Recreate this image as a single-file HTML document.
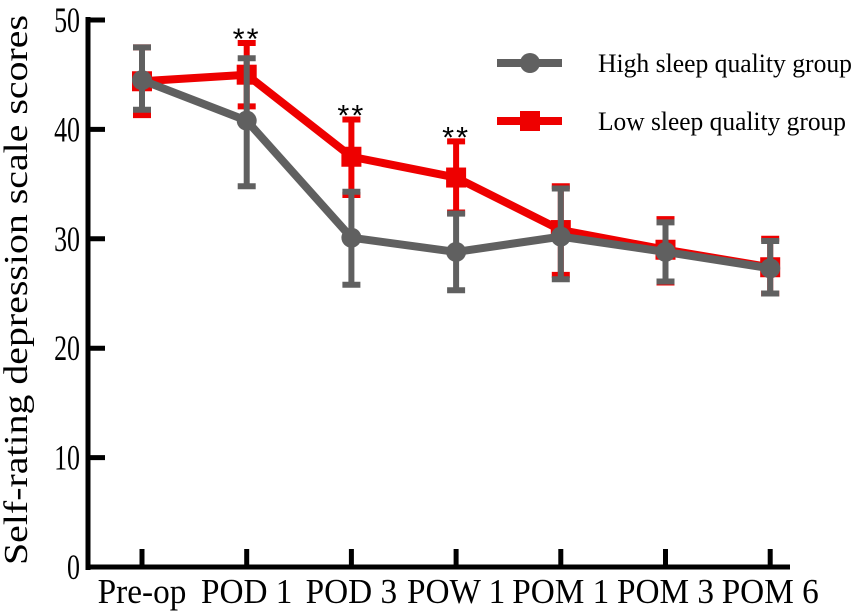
<!DOCTYPE html>
<html><head><meta charset="utf-8"><style>
html,body{margin:0;padding:0;background:#fff;}
svg{display:block;font-family:"Liberation Serif",serif;}
</style></head><body>
<svg id="chart" width="854" height="612" xmlns="http://www.w3.org/2000/svg"></svg>
<script>
const categories = ["Pre-op","POD 1","POD 3","POW 1","POM 1","POM 3","POM 6"];
const highMean = [44.5,40.8,30.1,28.8,30.2,28.8,27.3];
const highLow  = [41.8,34.8,25.8,25.3,26.3,26.1,25.0];
const highHigh = [47.5,46.5,34.3,32.3,34.6,31.5,29.8];
const lowMean  = [44.4,45.0,37.5,35.6,30.8,29.0,27.4];
const lowLow   = [41.3,42.1,34.0,32.4,26.7,26.0,25.0];
const lowHigh  = [47.5,47.9,40.9,38.9,34.8,31.8,30.0];
const sigFlags = [0,1,1,1,0,0,0];
const yTicks = [0,10,20,30,40,50];

const NS="http://www.w3.org/2000/svg";
const svg=document.getElementById('chart');
function y(v){return 567 - v*10.94;}
function x(i){return 142 + i*104.7;}
function mk(tag,attrs,parent){const e=document.createElementNS(NS,tag);for(const k in attrs)e.setAttribute(k,attrs[k]);(parent||svg).appendChild(e);return e;}
function squeeze(t,f){const L=t.getComputedTextLength();t.setAttribute('textLength',L*f);t.setAttribute('lengthAdjust','spacingAndGlyphs');}

const axes=mk('g',{});


mk('line',{x1:88,y1:17,x2:88,y2:570,stroke:'#000','stroke-width':5},axes);
mk('line',{x1:86,y1:567,x2:790,y2:567,stroke:'#000','stroke-width':5},axes);
yTicks.forEach(t=>{
  mk('line',{x1:88,y1:y(t),x2:105,y2:y(t),stroke:'#000','stroke-width':5},axes);
  const tx=mk('text',{x:80,y:y(t)+12,'text-anchor':'end','font-size':36},axes);
  tx.textContent=t;
  
  
  squeeze(tx,0.72);
});
categories.forEach((c,i)=>{
  mk('line',{x1:x(i),y1:549,x2:x(i),y2:567,stroke:'#000','stroke-width':5},axes);
  const tx=mk('text',{x:x(i),y:603,'text-anchor':'middle','font-size':35},axes);
  tx.textContent=c;
  
  
  squeeze(tx,0.95);
});
const yt=mk('text',{x:0,y:0,'text-anchor':'middle','font-size':34,transform:'translate(27,290) rotate(-90)'});
yt.textContent='Self-rating depression scale scores';


yt.setAttribute('textLength',550);
yt.setAttribute('lengthAdjust','spacingAndGlyphs');

function series(mean,lo,hi,color,marker,name){
  const g=mk('g',{});
  
  
  mean.forEach((m,i)=>{
    mk('line',{x1:x(i),y1:y(lo[i]),x2:x(i),y2:y(hi[i]),stroke:color,'stroke-width':6},g);
    mk('line',{x1:x(i)-9,y1:y(lo[i]),x2:x(i)+9,y2:y(lo[i]),stroke:color,'stroke-width':6},g);
    mk('line',{x1:x(i)-9,y1:y(hi[i]),x2:x(i)+9,y2:y(hi[i]),stroke:color,'stroke-width':6},g);
  });
  mk('polyline',{points:mean.map((m,i)=>x(i)+','+y(m)).join(' '),fill:'none',stroke:color,'stroke-width':8,'stroke-linejoin':'round'},g);
  mean.forEach((m,i)=>{
    let p;
    if(marker==='circle') p=mk('circle',{cx:x(i),cy:y(m),r:10,fill:color},g);
    else p=mk('rect',{x:x(i)-10,y:y(m)-10,width:20,height:20,fill:color},g);
    
    
  });
}
series(lowMean,lowLow,lowHigh,'#ee0000','square','low-sleep-series');
series(highMean,highLow,highHigh,'#606060','circle','high-sleep-series');

sigFlags.forEach((s,i)=>{
  if(!s) return;
  const t=mk('text',{x:x(i)-14,y:y(Math.max(lowHigh[i],highHigh[i]))+6,'font-size':30,'font-family':'Liberation Sans, sans-serif','letter-spacing':'2'});
  t.textContent='**';
  
  
  t.setAttribute('textLength',28);
  t.setAttribute('lengthAdjust','spacingAndGlyphs');
});

const lg=mk('g',{});


mk('line',{x1:497,y1:63,x2:562,y2:63,stroke:'#606060','stroke-width':8},lg);
mk('circle',{cx:530,cy:63,r:10,fill:'#606060'},lg);
const l1=mk('text',{x:598,y:72,'font-size':26,textLength:254,lengthAdjust:'spacingAndGlyphs'},lg);l1.textContent='High sleep quality group';


mk('line',{x1:497,y1:121,x2:562,y2:121,stroke:'#ee0000','stroke-width':8},lg);
mk('rect',{x:520,y:111,width:20,height:20,fill:'#ee0000'},lg);
const l2=mk('text',{x:598,y:130,'font-size':26,textLength:248,lengthAdjust:'spacingAndGlyphs'},lg);l2.textContent='Low sleep quality group';


</script>
</body></html>
